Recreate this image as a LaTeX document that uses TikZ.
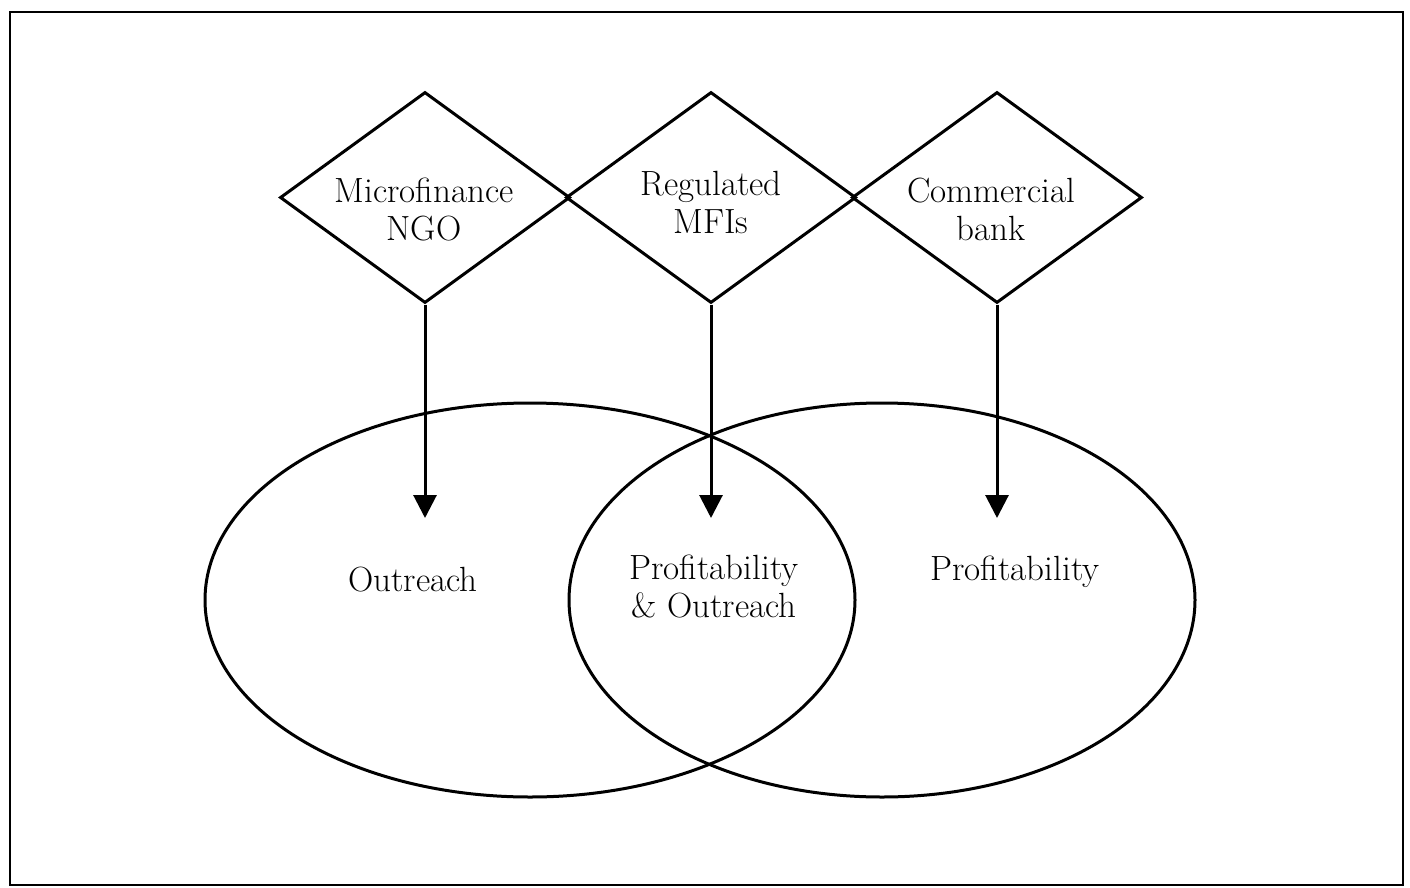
\documentclass[tikz,border=0pt]{standalone}
\usetikzlibrary{shapes.geometric,arrows.meta}
\begin{document}
\begin{tikzpicture}[x=1pt,y=-1pt,
  lbl/.style={font=\fontsize{35}{38}\selectfont, align=center, inner sep=0pt},
  dbox/.style={shape=diamond, draw, line width=3pt, minimum width=290pt, minimum height=211pt, inner sep=0pt},
  ebox/.style={shape=ellipse, draw, line width=3pt, inner sep=0pt},
  arr/.style={line width=3pt, -{Triangle[width=23pt,length=23pt]}}
]
\useasboundingbox (0,0) rectangle (1410,888);
\node[draw, line width=2.5pt, minimum width=1393pt, minimum height=873pt, inner sep=0pt] (frame) at (706.5,448.5) {};
% ellipses
\node[ebox, minimum width=650pt, minimum height=394pt] (eleft) at (530,600) {};
\node[ebox, minimum width=626pt, minimum height=394pt] (eright) at (882,600) {};
% diamonds
\node[dbox] (d1) at (425,197.5) {};
\node[dbox] (d2) at (711,197.5) {};
\node[dbox] (d3) at (997,197.5) {};
\node[lbl] (t1l) at (424,209) {Microfinance\\NGO};
\node[lbl] (t2l) at (711,202) {Regulated\\MFIs};
\node[lbl] (t3l) at (991,209) {Commercial\\bank};
% arrow ends
\coordinate (t1) at (425,518);
\coordinate (t2) at (711,518);
\coordinate (t3) at (997,518);
\draw[arr] (d1.south) -- (t1);
\draw[arr] (d2.south) -- (t2);
\draw[arr] (d3.south) -- (t3);
% labels
\node[lbl] (l1) at (413,580) {Outreach};
\node[lbl] (l2) at (714,586) {Profitability\\\& Outreach};
\node[lbl] (l3) at (1015,572) {Profitability};
\end{tikzpicture}
\end{document}
